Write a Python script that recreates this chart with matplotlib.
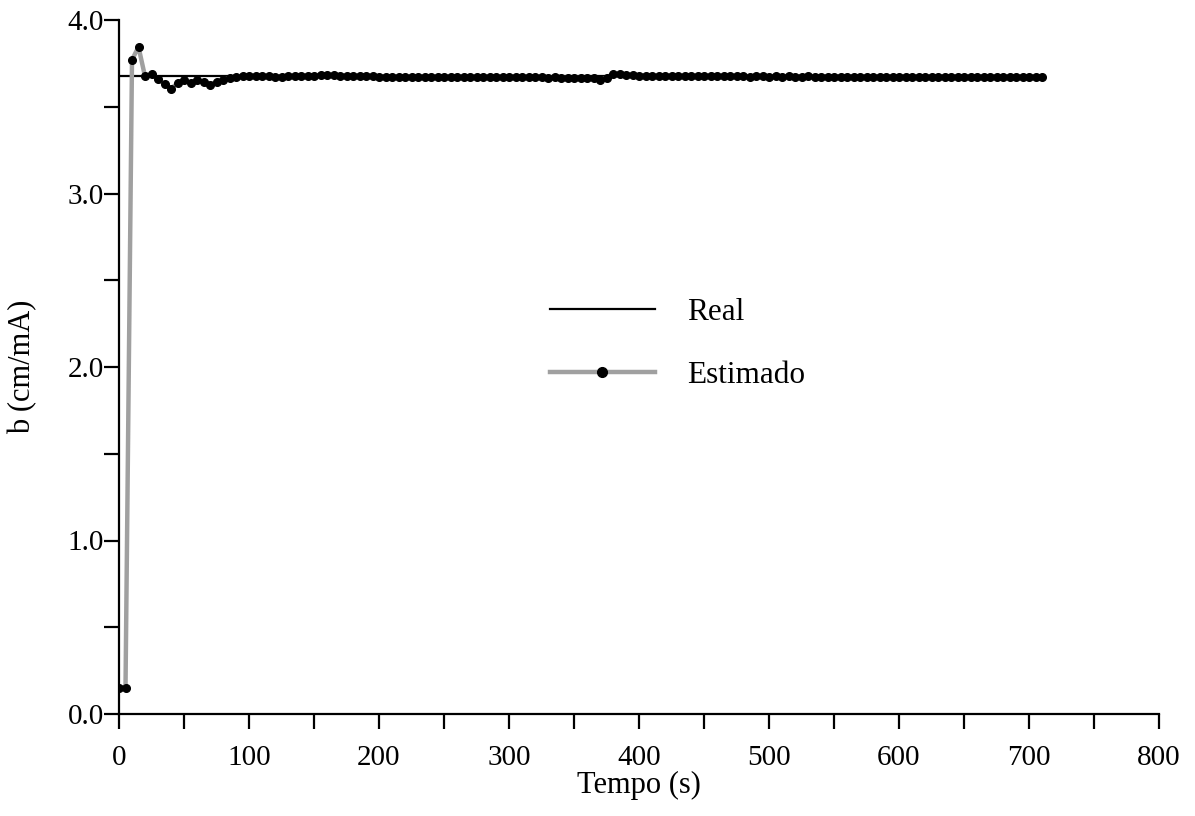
import numpy as np
import matplotlib
matplotlib.use("Agg")
import matplotlib.pyplot as plt
from matplotlib.lines import Line2D
from matplotlib.ticker import MultipleLocator, FormatStrFormatter

plt.rcParams['font.family'] = ['Liberation Serif', 'DejaVu Serif']

# Time samples (s)
tempo = np.arange(0, 715, 5)

# Estimated parameter b (cm/mA)
estimado = [
    0.15, 0.15, 3.77, 3.845, 3.675, 3.69, 3.66, 3.63, 3.605, 3.635,
    3.655, 3.635, 3.655, 3.64, 3.625, 3.645, 3.655, 3.665, 3.673, 3.675,
    3.678, 3.676, 3.678, 3.675, 3.673, 3.674, 3.675, 3.676, 3.677, 3.678,
    3.680, 3.681, 3.682, 3.681, 3.679, 3.677, 3.676, 3.677, 3.678, 3.676,
    3.674, 3.673, 3.672, 3.671, 3.672, 3.671, 3.670, 3.671, 3.670, 3.669,
    3.670, 3.671, 3.670, 3.669, 3.670, 3.671, 3.670, 3.671, 3.670, 3.669,
    3.670, 3.671, 3.670, 3.669, 3.670, 3.669, 3.668, 3.669, 3.668, 3.667,
    3.668, 3.667, 3.666, 3.665, 3.652, 3.668, 3.690, 3.688, 3.684, 3.681,
    3.679, 3.678, 3.677, 3.677, 3.676, 3.677, 3.676, 3.676, 3.675, 3.676,
    3.675, 3.676, 3.675, 3.675, 3.676, 3.675, 3.675, 3.674, 3.675, 3.675,
    3.674, 3.675, 3.674, 3.675, 3.674, 3.674, 3.675, 3.674, 3.674, 3.673,
    3.674, 3.674, 3.673, 3.674, 3.674, 3.673, 3.674, 3.673, 3.674, 3.673,
    3.674, 3.673, 3.673, 3.674, 3.673, 3.673, 3.674, 3.673, 3.673, 3.674,
    3.673, 3.674, 3.673, 3.673, 3.674, 3.673, 3.673, 3.674, 3.673, 3.674,
    3.673, 3.674, 3.673,
]

# Real value
real_t = [0, 710]
real_b = [3.68, 3.68]

fig = plt.figure(figsize=(11.95, 8.16), dpi=100)
ax = fig.add_axes([119/1195, 1 - 714/816, (1159-119)/1195, (714-20)/816])

ax.plot(real_t, real_b, color='black', lw=1.6, zorder=2)
ax.plot(tempo, estimado, color='#a0a0a0', lw=3.2, zorder=3)
ax.plot(tempo, estimado, ls='none', marker='o', ms=5.5, color='black', zorder=4)

ax.set_xlim(0, 800)
ax.set_ylim(0, 4.0)
ax.xaxis.set_major_locator(MultipleLocator(100))
ax.xaxis.set_minor_locator(MultipleLocator(50))
ax.yaxis.set_major_locator(MultipleLocator(1.0))
ax.yaxis.set_minor_locator(MultipleLocator(0.5))
ax.yaxis.set_major_formatter(FormatStrFormatter('%.1f'))

for s in ['top', 'right']:
    ax.spines[s].set_visible(False)
for s in ['left', 'bottom']:
    ax.spines[s].set_linewidth(1.6)

ax.tick_params(which='both', direction='out', length=11, width=1.6,
               labelsize=21, colors='black')
ax.tick_params(axis='x', which='major', pad=11)
ax.tick_params(axis='y', which='major', pad=0)

ax.set_xlabel('Tempo (s)', fontsize=22, labelpad=0)
ax.set_ylabel('b (cm/mA)', fontsize=22, labelpad=22)

handles = [
    Line2D([], [], color='black', lw=1.6),
    Line2D([], [], color='#a0a0a0', lw=3.2, marker='o', ms=7,
           markerfacecolor='black', markeredgecolor='black'),
]
ax.legend(handles, ['Real', 'Estimado'], loc='center left',
          bbox_to_anchor=(0.4144, 0.5331), frameon=False, fontsize=22.5,
          handlelength=3.35, handletextpad=1.05, labelspacing=1.1,
          borderpad=0, borderaxespad=0, markerfirst=True)

fig.savefig('out.png', dpi=100)
